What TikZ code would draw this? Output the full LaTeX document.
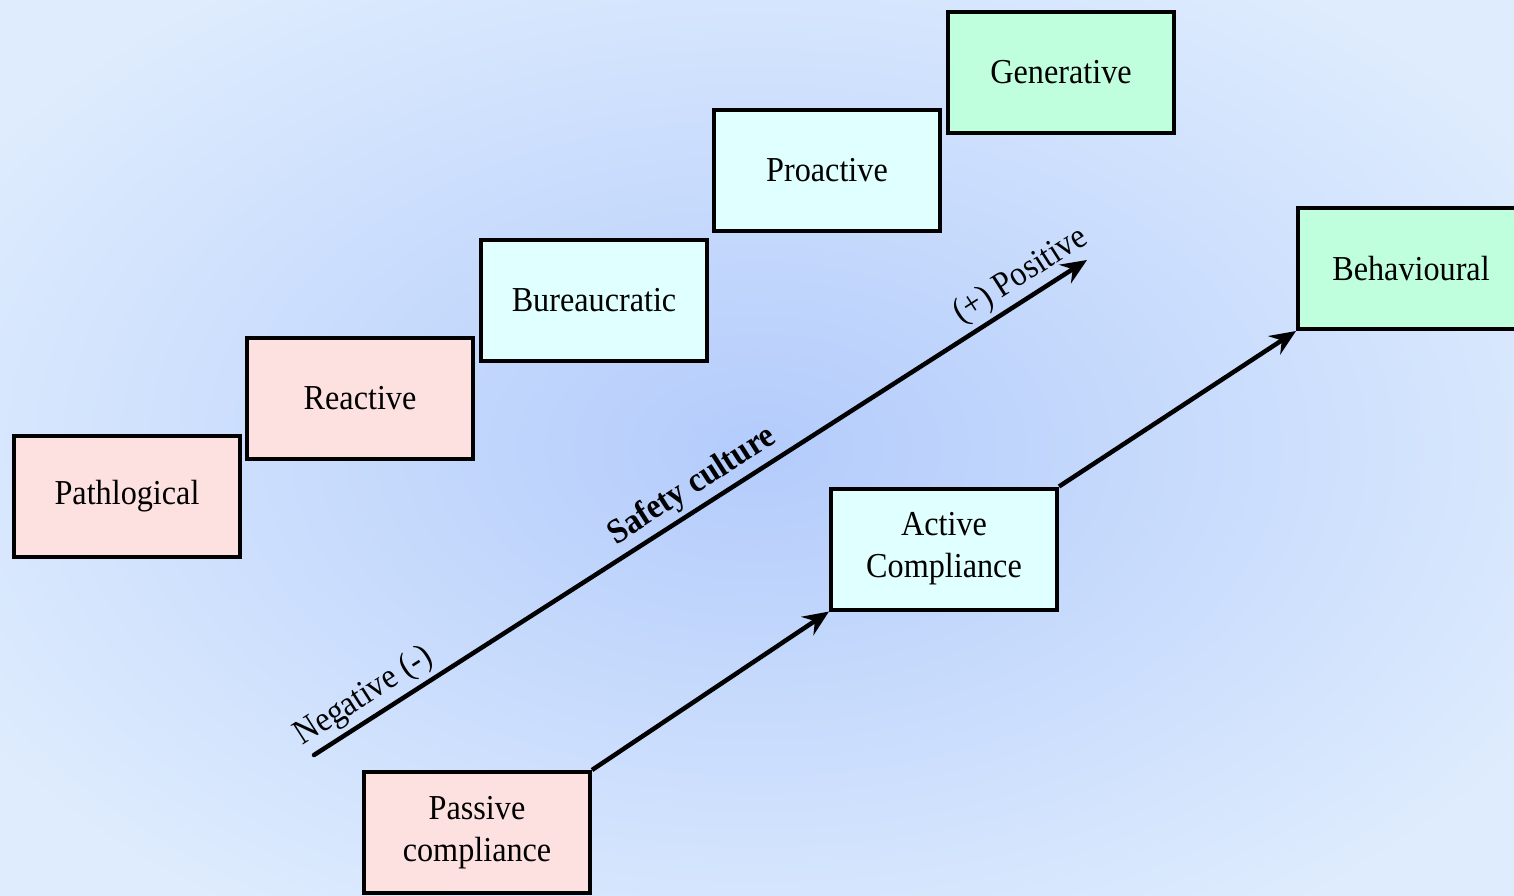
\documentclass[tikz,border=0pt]{standalone}
\usepackage{fontspec}
\setmainfont{Liberation Serif}[FakeStretch=0.92]
\usetikzlibrary{arrows.meta}
\definecolor{bgin}{RGB}{180,204,252}
\definecolor{bgout}{RGB}{222,236,253}
\definecolor{pinkfill}{RGB}{253,224,224}
\definecolor{cyanfill}{RGB}{224,255,255}
\definecolor{mintfill}{RGB}{192,255,222}
\tikzset{
  stagebox/.style={draw=black, line width=4pt, minimum width=226pt, minimum height=121pt,
    inner sep=0pt, align=center, font=\fontsize{35}{42}\selectfont},
  pinkbox/.style={stagebox, fill=pinkfill},
  cyanbox/.style={stagebox, fill=cyanfill},
  mintbox/.style={stagebox, fill=mintfill},
  bigarrow/.style={line width=4.5pt, line cap=round, -{Stealth[length=26pt,width=22pt,inset=9pt]}},
  slopelabel/.style={sloped, above, inner sep=4pt, font=\fontsize{35}{40}\selectfont}
}
\begin{document}
\begin{tikzpicture}[x=1pt,y=-1pt]
\useasboundingbox (0,0) rectangle (1514,895);
\clip (0,0) rectangle (1514,895);
\shade[inner color=bgin, outer color=bgout] (-150,-120) rectangle (1664,1015);

\node[pinkbox] (path) at (127,496) {Pathlogical};
\node[pinkbox] (react) at (360,398.5) {Reactive};
\node[cyanbox] (bur) at (594,300.5) {Bureaucratic};
\node[cyanbox] (pro) at (827,170.5) {Proactive};
\node[mintbox] (gen) at (1061,72.5) {Generative};
\node[mintbox] (beh) at (1411,268.5) {Behavioural};
\node[cyanbox] (act) at (944,549) {Active\\Compliance};
\node[pinkbox] (pas) at (477,832.5) {Passive\\compliance};

\coordinate (sc0) at (314,755);
\coordinate (sc1) at (1087,260);
\draw[bigarrow] (sc0) -- node[slopelabel, pos=0.08] {Negative (-)}
  node[slopelabel, pos=0.505, font=\fontsize{35}{40}\selectfont\bfseries] {Safety culture}
  node[slopelabel, pos=0.93] {(+) Positive} (sc1);

\draw[bigarrow, line cap=butt] (pas.north east) -- (act.south west);
\draw[bigarrow, line cap=butt] (act.north east) -- (beh.south west);
\end{tikzpicture}
\end{document}
